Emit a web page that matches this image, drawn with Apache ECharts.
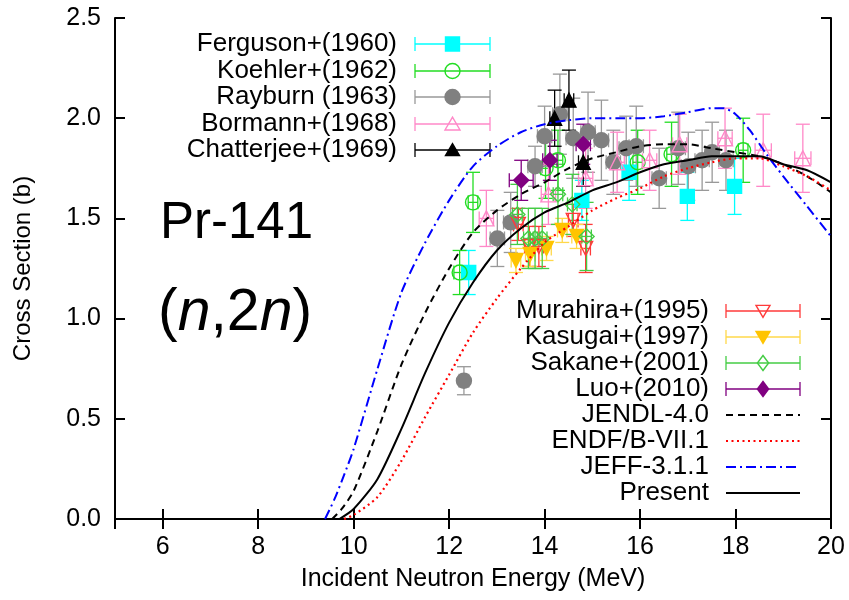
<!DOCTYPE html>
<html><head><meta charset="utf-8">
<script src="https://cdn.jsdelivr.net/npm/echarts@6/dist/echarts.min.js"></script>
<style>html,body{margin:0;padding:0;background:#fff}#c{width:849px;height:600px}</style>
</head><body><div id="c"></div>
<script>
// ---- data: [energy (MeV), cross section (b), dE, dSigma] ----
const ferguson = [[12.41,1.23,0.10,0.11],[14.78,1.59,0.10,0.10],[15.77,1.73,0.10,0.14],[16.99,1.61,0.10,0.12],[17.98,1.66,0.10,0.14]];
const koehler = [[12.22,1.23,0.12,0.11],[12.50,1.58,0.10,0.15],[14.02,1.75,0.10,0.15],[14.28,1.79,0.10,0.15],[15.95,1.78,0.10,0.16],[16.66,1.82,0.10,0.16],[18.16,1.84,0.10,0.16]];
const rayburn = [[12.31,0.69,0.10,0.07],[13.01,1.40,0.15,0.14],[13.29,1.48,0.15,0.15],[13.80,1.76,0.15,0.10],[14.00,1.91,0.15,0.15],[14.32,2.02,0.15,0.20],[14.60,1.90,0.15,0.20],[14.91,1.93,0.15,0.20],[15.19,1.89,0.15,0.20],[15.44,1.78,0.15,0.16],[15.71,1.85,0.15,0.16],[15.92,1.86,0.15,0.20],[16.40,1.70,0.15,0.15],[16.80,1.85,0.15,0.18],[17.01,1.76,0.15,0.17],[17.30,1.79,0.15,0.15],[17.51,1.83,0.15,0.15],[17.80,1.79,0.15,0.15]];
const bormann = [[12.78,1.50,0.15,0.14],[14.08,1.62,0.15,0.15],[14.86,1.70,0.15,0.15],[15.52,1.78,0.15,0.15],[16.20,1.79,0.15,0.15],[16.83,1.87,0.15,0.15],[17.78,1.90,0.15,0.15],[18.58,1.84,0.17,0.18],[19.41,1.80,0.17,0.17]];
const chatterjee = [[14.21,2.00,0.10,0.14],[14.51,2.09,0.10,0.15],[14.81,1.78,0.10,0.12]];
const murahira = [[13.45,1.47,0.10,0.08],[13.68,1.36,0.10,0.10],[13.88,1.36,0.10,0.10],[14.60,1.49,0.10,0.08],[14.86,1.35,0.10,0.12]];
const kasugai = [[13.40,1.29,0.10,0.06],[13.70,1.32,0.10,0.06],[14.04,1.35,0.10,0.06],[14.37,1.44,0.10,0.06],[14.67,1.41,0.10,0.06]];
const sakane = [[13.43,1.52,0.10,0.15],[13.66,1.40,0.10,0.15],[13.80,1.40,0.10,0.15],[13.95,1.40,0.10,0.15],[14.28,1.62,0.10,0.15],[14.58,1.57,0.10,0.15],[14.88,1.41,0.10,0.17]];
const luo = [[13.51,1.69,0.25,0.10],[14.11,1.79,0.15,0.10],[14.81,1.87,0.15,0.10]];

// evaluated curves [energy, cross section]
const jendl = [[9.55,0],[9.75,0.05],[10,0.14],[10.5,0.44],[11,0.77],[11.5,1.03],[12,1.25],[12.5,1.43],[13,1.54],[13.5,1.62],[14,1.68],[14.5,1.75],[15,1.80],[15.5,1.83],[16,1.86],[16.5,1.87],[17,1.87],[17.5,1.85],[18,1.83],[18.5,1.81],[19,1.77],[19.5,1.71],[20,1.63]];
const endf = [[9.8,0],[10,0.02],[10.5,0.11],[11,0.29],[11.5,0.51],[12,0.72],[12.5,0.93],[13,1.10],[13.5,1.25],[14,1.38],[14.5,1.46],[15,1.54],[15.5,1.60],[16,1.65],[16.5,1.71],[17,1.75],[17.5,1.78],[18,1.80],[18.5,1.80],[19,1.76],[19.5,1.71],[20,1.64]];
const jeff = [[9.4,0],[9.6,0.10],[9.8,0.22],[10,0.35],[10.5,0.75],[11,1.13],[11.5,1.38],[12,1.59],[12.5,1.76],[13,1.86],[13.5,1.93],[14,1.97],[14.5,1.99],[15,2.00],[15.5,2.00],[16,2.00],[16.5,2.01],[17,2.03],[17.5,2.05],[17.75,2.05],[18,2.02],[18.3,1.94],[18.65,1.82],[19,1.71],[19.5,1.56],[20,1.41]];
const present = [[9.7,0],[10,0.05],[10.5,0.20],[11,0.45],[11.5,0.73],[12,0.98],[12.5,1.18],[13,1.34],[13.5,1.45],[14,1.53],[14.5,1.58],[15,1.64],[15.5,1.68],[16,1.73],[16.5,1.77],[17,1.79],[17.5,1.81],[18,1.81],[18.5,1.81],[19,1.77],[19.5,1.74],[20,1.68]];

const FONT = '"Liberation Sans", Arial, sans-serif';

const expSets = [
  {name:'Ferguson+(1960)', data:ferguson, bar:'#00ffff', symbol:'rect', size:14, fill:'#00ffff', border:'#00ffff', rot:0},
  {name:'Koehler+(1962)', data:koehler, bar:'#22dd22', symbol:'circle', size:15, fill:'transparent', border:'#22dd22', rot:0},
  {name:'Rayburn (1963)', data:rayburn, bar:'#999999', symbol:'circle', size:15, fill:'#808080', border:'#808080', rot:0},
  {name:'Bormann+(1968)', data:bormann, bar:'#ff88c8', symbol:'triangle', size:15, fill:'transparent', border:'#ff88c8', rot:0},
  {name:'Chatterjee+(1969)', data:chatterjee, bar:'#000000', symbol:'triangle', size:14, fill:'#000000', border:'#000000', rot:0},
  {name:'Murahira+(1995)', data:murahira, bar:'#ff3a3a', symbol:'triangle', size:14, fill:'transparent', border:'#ff3a3a', rot:180},
  {name:'Kasugai+(1997)', data:kasugai, bar:'#ffd84a', symbol:'triangle', size:14, fill:'#ffc400', border:'#ffc400', rot:180},
  {name:'Sakane+(2001)', data:sakane, bar:'#44cc44', symbol:'diamond', size:15, fill:'transparent', border:'#44cc44', rot:0},
  {name:'Luo+(2010)', data:luo, bar:'#800080', symbol:'diamond', size:15, fill:'#800080', border:'#800080', rot:0}
];
const curveSets = [
  {name:'JENDL-4.0', data:jendl, color:'#000000', type:[7,5], width:2},
  {name:'ENDF/B-VII.1', data:endf, color:'#ff0000', type:[2,3.5], width:2.2},
  {name:'JEFF-3.1.1', data:jeff, color:'#0000ff', type:[10,4,2,4], width:2},
  {name:'Present', data:present, color:'#000000', type:'solid', width:2}
];

function errRender(color) {
  return function(params, api) {
    const x = api.value(0), y = api.value(1), dx = api.value(2), dy = api.value(3);
    const l = api.coord([x-dx, y]), r = api.coord([x+dx, y]);
    const b = api.coord([x, y-dy]), t = api.coord([x, y+dy]);
    const st = {stroke: color, lineWidth: 1.3};
    const h = 7;
    const ln = (x1,y1,x2,y2) => ({type:'line', shape:{x1,y1,x2,y2}, style:st});
    return {type:'group', children:[
      ln(l[0],l[1],r[0],r[1]), ln(l[0],l[1]-h,l[0],l[1]+h), ln(r[0],r[1]-h,r[0],r[1]+h),
      ln(b[0],b[1],t[0],t[1]), ln(b[0]-h,b[1],b[0]+h,b[1]), ln(t[0]-h,t[1],t[0]+h,t[1])
    ]};
  };
}

const series = [];
expSets.forEach(s => {
  series.push({type:'custom', name:s.name+'_err', data:s.data, renderItem:errRender(s.bar),
    encode:{x:0, y:1}, silent:true, z:2, animation:false});
});
expSets.forEach(s => {
  series.push({type:'scatter', name:s.name, data:s.data.map(d=>[d[0],d[1]]), symbol:s.symbol,
    symbolSize:s.size, symbolRotate:s.rot, z:3, animation:false,
    itemStyle:{color:s.fill, borderColor:s.border, borderWidth:1.4, opacity:1}});
});
curveSets.forEach(c => {
  series.push({type:'line', name:c.name, data:c.data, smooth:0.25, showSymbol:false,
    lineStyle:{color:c.color, width:c.width, type:c.type}, z:5, animation:false});
});

// legend drawing
const graphics = [];
function markerShape(s, cx, cy) {
  const r = s.size/2;
  const style = {fill: s.fill, stroke: s.border, lineWidth: 1.4};
  if (s.symbol === 'rect') return {type:'rect', shape:{x:cx-r, y:cy-r, width:2*r, height:2*r}, style};
  if (s.symbol === 'circle') return {type:'circle', shape:{cx, cy, r}, style};
  if (s.symbol === 'diamond') return {type:'polygon', shape:{points:[[cx,cy-r],[cx+r*0.75,cy],[cx,cy+r],[cx-r*0.75,cy]]}, style};
  if (s.rot === 180) return {type:'polygon', shape:{points:[[cx-r,cy-r*0.8],[cx+r,cy-r*0.8],[cx,cy+r*0.9]]}, style};
  return {type:'polygon', shape:{points:[[cx-r,cy+r*0.8],[cx+r,cy+r*0.8],[cx,cy-r*0.9]]}, style};
}
function legendEntry(label, textX, cy, x1, x2, drawSample) {
  graphics.push({type:'text', x:textX, y:cy, style:{text:label, font:'26px '+FONT, fill:'#000', align:'right', verticalAlign:'middle'}});
  drawSample(x1, x2, cy);
}
const topRows = [44, 71, 97, 124, 150];
const botRows = [311, 337, 363, 389, 415, 441, 467, 493];
expSets.forEach((s, i) => {
  const upper = i < 5;
  const cy = upper ? topRows[i] : botRows[i-5];
  const textX = upper ? 397 : 709;
  const x1 = upper ? 415 : 726, x2 = upper ? 490 : 800;
  legendEntry(s.name, textX, cy, x1, x2, (a, b, y) => {
    const st = {stroke:s.bar, lineWidth:1.3};
    graphics.push({type:'line', shape:{x1:a, y1:y, x2:b, y2:y}, style:st});
    graphics.push({type:'line', shape:{x1:a, y1:y-7, x2:a, y2:y+7}, style:st});
    graphics.push({type:'line', shape:{x1:b, y1:y-7, x2:b, y2:y+7}, style:st});
    graphics.push(markerShape(s, (a+b)/2, y));
  });
});
curveSets.forEach((c, i) => {
  legendEntry(c.name, 709, botRows[4+i], 726, 800, (a, b, y) => {
    graphics.push({type:'line', shape:{x1:a, y1:y, x2:b, y2:y}, style:{stroke:c.color, lineWidth:c.width, lineDash:c.type==='solid'?null:c.type}});
  });
});
graphics.push({type:'text', x:160, y:224, style:{text:'Pr-141', font:'51px '+FONT, fill:'#000', align:'left', verticalAlign:'middle'}});
graphics.push({type:'text', x:158, y:314, style:{text:'({i|n},2{i|n})', font:'59px '+FONT, fill:'#000', align:'left', verticalAlign:'middle',
  rich:{i:{font:'italic 59px '+FONT, fill:'#000'}}}});

const axisCommon = {
  axisLine:{show:true, lineStyle:{color:'#000', width:2}},
  axisTick:{show:true, inside:true, length:10, lineStyle:{color:'#000', width:2}},
  splitLine:{show:false}
};
const chart = echarts.init(document.getElementById('c'), null, {renderer:'canvas'});
chart.setOption({
  animation:false,
  backgroundColor:'#fff',
  grid:{left:115, right:18, top:18, bottom:81, containLabel:false},
  xAxis:[
    Object.assign({type:'value', min:5, max:20, splitNumber:7, position:'bottom',
      name:'Incident Neutron Energy (MeV)', nameLocation:'middle', nameGap:48,
      nameTextStyle:{fontFamily:FONT, fontSize:25, color:'#000'},
      axisLabel:{fontFamily:FONT, fontSize:25, color:'#000', margin:16, showMinLabel:false}}, axisCommon),
    Object.assign({type:'value', min:5, max:20, splitNumber:7, position:'top', axisLabel:{show:false}}, axisCommon)
  ],
  yAxis:[
    Object.assign({type:'value', min:0, max:2.5, interval:0.5, position:'left',
      name:'Cross Section (b)', nameLocation:'middle', nameGap:80,
      nameTextStyle:{fontFamily:FONT, fontSize:24, color:'#000'},
      axisLabel:{fontFamily:FONT, fontSize:25, color:'#000', margin:14, formatter:v=>v.toFixed(1)}}, axisCommon),
    Object.assign({type:'value', min:0, max:2.5, interval:0.5, position:'right', axisLabel:{show:false}}, axisCommon)
  ],
  series:series,
  graphic:graphics
});
</script></body></html>
